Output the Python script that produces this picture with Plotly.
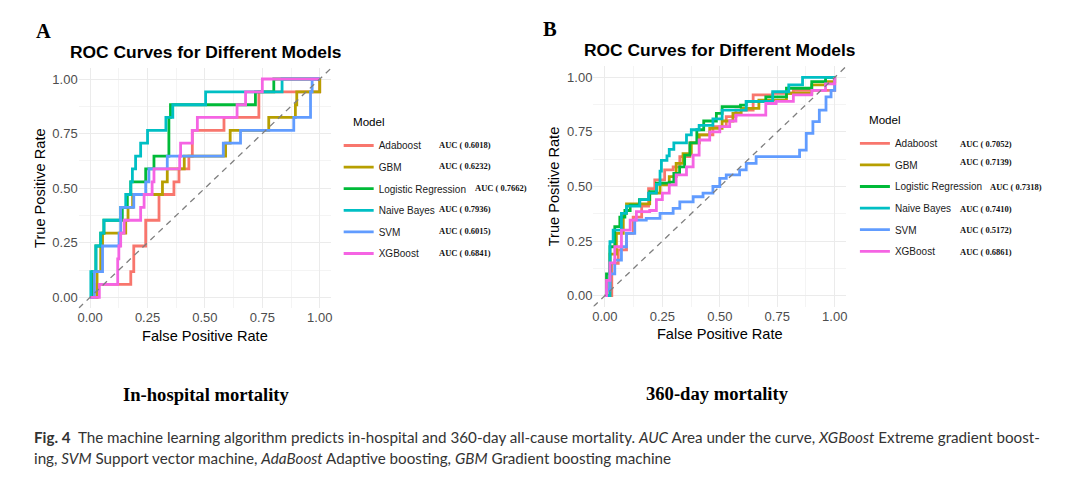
import plotly.graph_objects as go

# ---- data (ROC curve step points: FPR where TPR jumps, TPR after the jump) ----
models = ["Adaboost", "GBM", "Logistic Regression", "Naive Bayes", "SVM", "XGBoost"]
colors = ["#F8766D", "#B79F00", "#00BA38", "#00BFC4", "#619CFF", "#F564E3"]

auc_a = ["0.6018", "0.6232", "0.7662", "0.7936", "0.6015", "0.6841"]
auc_b = ["0.7052", "0.7139", "0.7318", "0.7410", "0.5172", "0.6861"]

# panel A: in-hospital mortality
fpr_a = {
    "Adaboost": [0, 0.03, 0.177, 0.19, 0.242, 0.30, 0.365, 0.387, 0.43, 0.445, 0.583, 0.735, 1.0],
    "GBM": [0, 0.03, 0.046, 0.054, 0.155, 0.165, 0.185, 0.315, 0.336, 0.41, 0.59, 0.61, 0.778, 0.894,
            0.90, 1.0],
    "Logistic Regression": [0, 0.01, 0.025, 0.046, 0.06, 0.14, 0.162, 0.177, 0.242, 0.278, 0.343, 0.35,
                            0.72, 0.80, 1.0],
    "Naive Bayes": [0, 0.003, 0.025, 0.046, 0.06, 0.133, 0.155, 0.177, 0.184, 0.198, 0.22, 0.25, 0.33,
                    0.36, 0.503, 0.836, 1.0],
    "SVM": [0, 0.018, 0.054, 0.126, 0.133, 0.19, 0.242, 0.256, 0.336, 0.58, 0.655, 0.887, 0.96, 0.967, 1.0],
    "XGBoost": [0, 0.04, 0.12, 0.125, 0.133, 0.148, 0.22, 0.235, 0.27, 0.278, 0.39, 0.394, 0.445, 0.467,
                0.64, 0.677, 0.75, 1.0],
}
tpr_a = {
    "Adaboost": [0, 0.059, 0.118, 0.235, 0.353, 0.471, 0.529, 0.588, 0.647, 0.765, 0.824, 0.941, 1.0],
    "GBM": [0, 0.118, 0.235, 0.294, 0.353, 0.412, 0.471, 0.529, 0.588, 0.647, 0.706, 0.765, 0.824, 0.882,
            0.941, 1.0],
    "Logistic Regression": [0, 0.118, 0.235, 0.294, 0.353, 0.412, 0.471, 0.529, 0.588, 0.647, 0.824,
                            0.882, 0.941, 1.0, 1.0],
    "Naive Bayes": [0, 0.118, 0.235, 0.294, 0.353, 0.412, 0.471, 0.529, 0.588, 0.647, 0.706, 0.765,
                    0.824, 0.882, 0.941, 1.0, 1.0],
    "SVM": [0, 0.118, 0.235, 0.294, 0.412, 0.471, 0.529, 0.588, 0.647, 0.706, 0.765, 0.824, 0.941, 1.0, 1.0],
    "XGBoost": [0, 0.059, 0.176, 0.235, 0.294, 0.353, 0.412, 0.471, 0.529, 0.588, 0.647, 0.706, 0.765,
                0.824, 0.882, 0.941, 1.0, 1.0],
}

# panel B: 360-day mortality
fpr_b = {
    "Adaboost": [0, 0.03, 0.058, 0.094, 0.123, 0.16, 0.19, 0.217, 0.26, 0.297, 0.326, 0.37, 0.41, 0.47,
                 0.528, 0.57, 0.645, 0.73, 0.82, 0.95, 1.0],
    "GBM": [0, 0.022, 0.05, 0.08, 0.094, 0.15, 0.195, 0.24, 0.28, 0.31, 0.34, 0.376, 0.41, 0.456, 0.51,
            0.557, 0.593, 0.67, 0.79, 0.90, 0.96, 1.0],
    "Logistic Regression": [0, 0.007, 0.022, 0.043, 0.065, 0.087, 0.11, 0.15, 0.195, 0.224, 0.28, 0.30,
                            0.325, 0.347, 0.37, 0.40, 0.43, 0.485, 0.51, 0.59, 0.615, 0.70, 0.79, 0.90,
                            0.96, 1.0],
    "Naive Bayes": [0, 0.022, 0.036, 0.072, 0.094, 0.152, 0.19, 0.224, 0.24, 0.246, 0.27, 0.28, 0.30, 0.34,
                    0.355, 0.376, 0.41, 0.47, 0.51, 0.615, 0.73, 0.80, 0.86, 1.0],
    "SVM": [0, 0.007, 0.022, 0.043, 0.072, 0.094, 0.13, 0.18, 0.24, 0.297, 0.326, 0.384, 0.427, 0.47, 0.50,
            0.528, 0.586, 0.615, 0.658, 0.818, 0.847, 0.876, 0.905, 0.933, 0.962, 0.984, 1.0],
    "XGBoost": [0, 0.007, 0.022, 0.043, 0.072, 0.11, 0.137, 0.195, 0.224, 0.25, 0.28, 0.31, 0.355, 0.384,
                0.41, 0.456, 0.50, 0.543, 0.57, 0.68, 0.70, 0.745, 0.82, 0.90, 0.96, 1.0],
}
tpr_b = {
    "Adaboost": [0, 0.148, 0.21, 0.285, 0.36, 0.41, 0.49, 0.53, 0.576, 0.59, 0.637, 0.70, 0.736, 0.774,
                 0.82, 0.85, 0.92, 0.927, 0.94, 0.94, 1.0],
    "GBM": [0, 0.19, 0.285, 0.377, 0.42, 0.42, 0.47, 0.507, 0.545, 0.606, 0.65, 0.70, 0.736, 0.766, 0.80,
            0.835, 0.858, 0.896, 0.927, 0.965, 0.98, 1.0],
    "Logistic Regression": [0, 0.10, 0.224, 0.316, 0.36, 0.39, 0.415, 0.44, 0.476, 0.515, 0.52, 0.56,
                            0.59, 0.644, 0.70, 0.76, 0.80, 0.835, 0.866, 0.873, 0.89, 0.91, 0.95, 0.98,
                            1.0, 1.0],
    "Naive Bayes": [0, 0.247, 0.30, 0.377, 0.41, 0.44, 0.47, 0.51, 0.57, 0.62, 0.64, 0.67, 0.70, 0.70,
                    0.736, 0.76, 0.78, 0.81, 0.85, 0.89, 0.934, 0.965, 1.0, 1.0],
    "SVM": [0, 0.026, 0.10, 0.163, 0.224, 0.285, 0.346, 0.354, 0.377, 0.40, 0.43, 0.453, 0.47, 0.50, 0.537,
            0.553, 0.576, 0.606, 0.637, 0.637, 0.667, 0.743, 0.797, 0.85, 0.91, 0.94, 1.0],
    "XGBoost": [0, 0.07, 0.15, 0.224, 0.30, 0.346, 0.385, 0.39, 0.44, 0.47, 0.507, 0.553, 0.59, 0.644,
                0.713, 0.75, 0.774, 0.80, 0.827, 0.827, 0.88, 0.89, 0.92, 0.94, 0.97, 1.0],
}

ticks = [0, 0.25, 0.5, 0.75, 1.0]
tick_text = ["0.00", "0.25", "0.50", "0.75", "1.00"]
minor_ticks = [0.125, 0.375, 0.625, 0.875]
diag = [-0.05, 1.05]

# the page body keeps an 8px margin, so the figure is drawn 16px smaller than the window
W, H = 1064, 464
SANS = "Liberation Sans, Arial, sans-serif"
SERIF = "Liberation Serif, Times New Roman, serif"


def px(x):
    return (x - 8) / W


def py(y):
    return 1 - (y - 8) / H


fig = go.Figure()

panels = [
    ("x", "y", "legend", fpr_a, tpr_a),
    ("x2", "y2", "legend2", fpr_b, tpr_b),
]
for xa, ya, leg, fpr, tpr in panels:
    for m, c in zip(models, colors):
        fig.add_trace(go.Scatter(
            x=fpr[m], y=tpr[m], mode="lines", name=m, xaxis=xa, yaxis=ya,
            legend=leg, legendgroup=leg + m,
            line=dict(color=c, width=2.8, shape="hv"),
        ))
    fig.add_trace(go.Scatter(
        x=diag, y=diag, mode="lines", xaxis=xa, yaxis=ya, showlegend=False,
        line=dict(color="#7F7F7F", width=1.3, dash="6px,5px"),
    ))

axis_common = dict(
    range=[-0.05, 1.05], tickvals=ticks, ticktext=tick_text,
    showgrid=True, gridcolor="#EBEBEB", gridwidth=1.1, zeroline=False, showline=False,
    ticks="", tickfont=dict(family=SANS, size=13, color="#4D4D4D"),
    minor=dict(tickvals=minor_ticks, showgrid=True, gridcolor="#F4F4F4", gridwidth=0.6),
    title_font=dict(family=SANS, size=14.6, color="#000000"),
    fixedrange=True,
)

fig.update_layout(
    width=W, height=H,
    margin=dict(l=0, r=0, t=0, b=0),
    paper_bgcolor="white", plot_bgcolor="white",
    xaxis=dict(axis_common, domain=[px(77.8), px(330.8)], anchor="y",
               title=dict(text="False Positive Rate", standoff=6)),
    yaxis=dict(axis_common, domain=[py(308.2), py(68.1)], anchor="x",
               title=dict(text="True Positive Rate", standoff=3)),
    xaxis2=dict(axis_common, domain=[px(593.5), px(846.8)], anchor="y2",
                title=dict(text="False Positive Rate", standoff=6)),
    yaxis2=dict(axis_common, domain=[py(306.6), py(66.4)], anchor="x2",
                title=dict(text="True Positive Rate", standoff=3)),
    showlegend=True,
)

legend_common = dict(
    xanchor="left", yanchor="top", bgcolor="rgba(0,0,0,0)",
    font=dict(family=SANS, size=10, color="#1A1A1A"),
    tracegroupgap=2.6,
)
fig.update_layout(
    legend=dict(legend_common, x=px(338.3), y=py(131)),
    legend2=dict(legend_common, x=px(855.5), y=py(128.8)),
)

ann = []
# panel titles
for xx, yy in ((205, 52), (720.5, 50)):
    ann.append(dict(text="<b>ROC Curves for Different Models</b>", x=px(xx), y=py(yy), xref="paper",
                    yref="paper", showarrow=False, xanchor="center", yanchor="middle",
                    font=dict(family=SANS, size=17.4, color="#000000")))

# legend headings
for xx, yy in ((350.5, 121.7), (867.5, 119.3)):
    ann.append(dict(text="Model", x=px(xx), y=py(yy), xref="paper", yref="paper", showarrow=False,
                    xanchor="left", yanchor="middle", font=dict(family=SANS, size=11.6, color="#000000")))

# AUC labels next to legend entries
row_a = [144.5, 166, 188, 209.5, 230.5, 252.5]
row_b = [144, 162, 187, 208.5, 230, 252]
col_a = [437, 437, 472.7, 437, 437, 437]
col_b = [958.8, 958.8, 989, 958.8, 958.8, 958.8]
for k in range(len(models)):
    for val, xx, yy in ((auc_a[k], col_a[k], row_a[k]), (auc_b[k], col_b[k], row_b[k])):
        ann.append(dict(text="<b>AUC ( %s)</b>" % val, x=px(xx), y=py(yy), xref="paper", yref="paper",
                        showarrow=False, xanchor="left", yanchor="middle",
                        font=dict(family=SERIF, size=8.5, color="#111111")))

# panel letters and subtitles
for txt, xx, yy, size in (("A", 42.4, 31, 20.5), ("B", 550.4, 29.5, 20.5),
                          ("In-hospital mortality", 206.3, 394, 18.6),
                          ("360-day mortality", 718, 393.5, 18.6)):
    ann.append(dict(text="<b>%s</b>" % txt, x=px(xx), y=py(yy), xref="paper", yref="paper",
                    showarrow=False, xanchor="center", yanchor="middle",
                    font=dict(family=SERIF, size=size, color="#000000")))

# figure caption
cap1 = ("<b>Fig. 4</b>  The machine learning algorithm predicts in-hospital and 360-day all-cause mortality. "
        "<i>AUC</i> Area under the curve, <i>XGBoost</i> Extreme gradient boost-")
cap2 = ("ing, <i>SVM</i> Support vector machine, <i>AdaBoost</i> Adaptive boosting, "
        "<i>GBM</i> Gradient boosting machine")
for txt, yy in ((cap1, 437), (cap2, 458)):
    ann.append(dict(text=txt, x=px(31), y=py(yy), xref="paper", yref="paper", showarrow=False,
                    xanchor="left", yanchor="middle",
                    font=dict(family="Lato, Open Sans, sans-serif", size=15.2, color="#333333")))

fig.update_layout(annotations=ann)

fig.write_html("out.html")
